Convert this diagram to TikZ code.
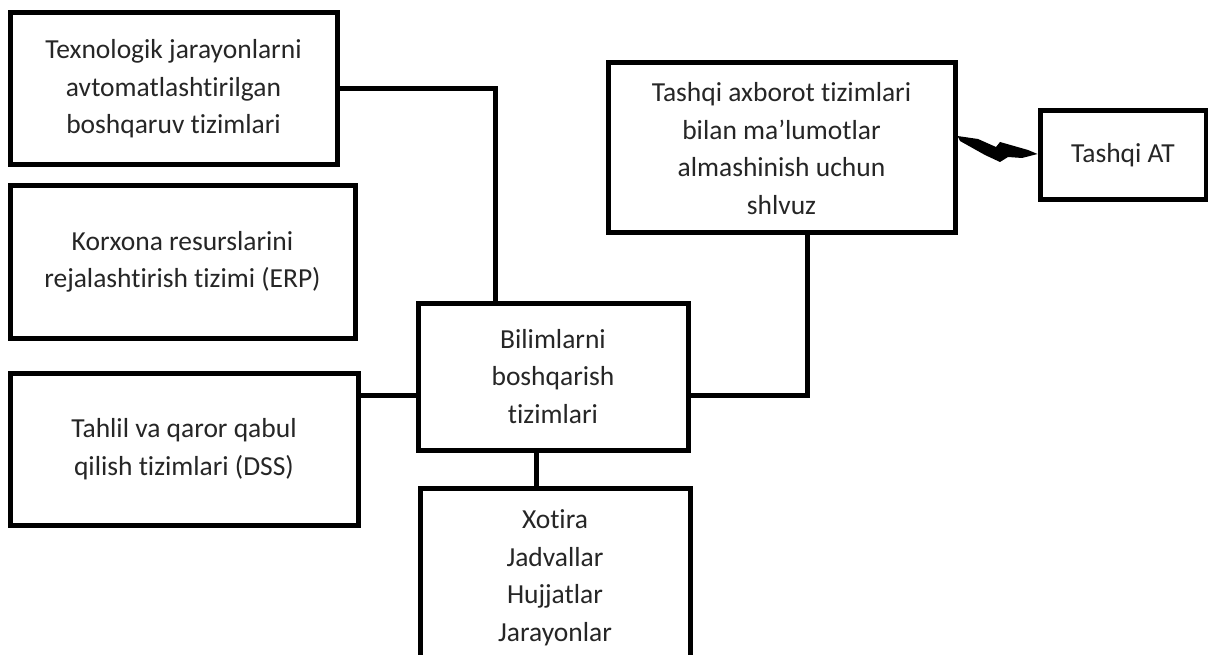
\documentclass[tikz,border=0pt]{standalone}
\usepackage{fontspec}
\setmainfont{Carlito}[Ligatures={NoCommon}]
\begin{document}
\begin{tikzpicture}[x=1pt,y=-1pt,
  box/.style={draw=black,line width=5pt,fill=white,align=center,inner sep=0pt,
    font=\fontsize{27.5}{37.5}\selectfont,text=black!85},
  conn/.style={draw=black,line width=5pt}]
\useasboundingbox (0,0) rectangle (1208,655);
\clip (0,0) rectangle (1208,655);
\node[box,minimum width=327,minimum height=152] (tex) at (173.5,89) {Texnologik jarayonlarni\\avtomatlashtirilgan\\boshqaruv tizimlari};
\node[box,minimum width=345,minimum height=152] (erp) at (182.5,262) {Korxona resurslarini\\rejalashtirish tizimi (ERP)};
\node[box,minimum width=348,minimum height=152] (dss) at (184,449) {Tahlil va qaror qabul\\qilish tizimlari (DSS)};
\node[box,minimum width=270,minimum height=147] (bil) at (553,376.5) {Bilimlarni\\boshqarish\\tizimlari};
\node[box,minimum width=270,minimum height=180] (xot) at (555,578) {Xotira\\Jadvallar\\Hujjatlar\\Jarayonlar};
\node[box,minimum width=347,minimum height=170] (gw) at (781.5,148) {\rule{0pt}{20pt}Tashqi axborot tizimlari\\bilan ma’lumotlar\\almashinish uchun\\shlvuz};
\node[box,minimum width=166,minimum height=89] (at) at (1123,155.5) {Tashqi AT};
\coordinate (j1) at (495,0);
\coordinate (h) at (0,395);
\coordinate (v) at (807,0);
\coordinate (vx) at (536,0);
\draw[conn] (tex.east) -| (bil.north -| j1);
\draw[conn] (dss.east |- h) -- (bil.west |- h);
\draw[conn] (bil.east |- h) -| (gw.south -| v);
\draw[conn] (bil.south -| vx) -- (xot.north -| vx);
\fill[black] (gw.east |- 0,136) -- (978,139) -- (996,147) -- (1000,142) -- (1028,150)
  -- (at.west |- 0,154) -- (1022,158) -- (1008,157) -- (1000,162) -- (985,155) -- (960,141) -- cycle;
\end{tikzpicture}
\end{document}
